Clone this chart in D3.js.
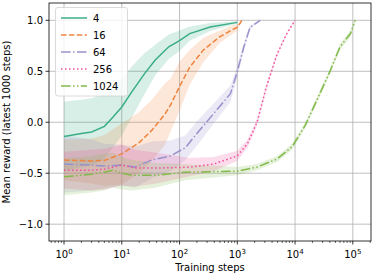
<!DOCTYPE html>
<html>
<head>
<meta charset="utf-8">
<script src="https://cdn.jsdelivr.net/npm/d3@7"></script>
<style>
  body { margin: 0; background: #fff; }
  text { font-family: "DejaVu Sans", sans-serif; }
</style>
</head>
<body>
<svg id="chart" width="374" height="275"></svg>
<script>
// series labels + colours
const names = ["4", "16", "64", "256", "1024"];
const colors = ["#3aae88", "#ee8540", "#9892cc", "#ef4f9d", "#82ba4a"];
const dashes = ["none", "5.5,2.4", "9.6,2.4,1.5,2.4", "1.5,2.5", "9.6,2.4,1.5,2.4,1.5,2.4"];

// training steps / mean reward / std for each run
const steps4  = [1, 2, 3, 5, 7, 10, 15, 25, 38, 65, 100, 150, 340, 1000];
const mean4   = [-0.14, -0.11, -0.095, -0.04, 0.05, 0.15, 0.30, 0.48, 0.61, 0.74, 0.80, 0.87, 0.935, 0.98];
const std4    = [0.34, 0.33, 0.33, 0.32, 0.30, 0.28, 0.25, 0.20, 0.15, 0.12, 0.10, 0.07, 0.04, 0.01];

const steps16 = [1, 3, 5, 10, 20, 33, 56, 70, 100, 150, 260, 500, 900, 1000, 1200];
const mean16  = [-0.37, -0.38, -0.375, -0.31, -0.20, -0.08, 0.08, 0.17, 0.35, 0.54, 0.71, 0.84, 0.92, 0.93, 1.0];
const std16   = [0.20, 0.22, 0.25, 0.30, 0.30, 0.30, 0.30, 0.26, 0.24, 0.17, 0.12, 0.06, 0.04, 0.03, 0.0];

const steps64 = [1, 3, 5, 10, 17, 33, 70, 126, 200, 390, 760, 980, 1300, 1660, 2500];
const mean64  = [-0.41, -0.42, -0.43, -0.42, -0.44, -0.37, -0.33, -0.25, -0.11, 0.085, 0.28, 0.48, 0.74, 0.93, 1.0];
const std64   = [0.28, 0.25, 0.22, 0.20, 0.20, 0.18, 0.15, 0.12, 0.12, 0.10, 0.08, 0.06, 0.04, 0.02, 0.0];

const steps256 = [1, 3, 5, 10, 17, 40, 150, 390, 1000, 1500, 2200, 3200, 4900, 7200, 10000];
const mean256  = [-0.47, -0.47, -0.46, -0.42, -0.45, -0.45, -0.44, -0.41, -0.33, -0.21, 0.0, 0.35, 0.67, 0.87, 1.0];
const std256   = [0.18, 0.20, 0.20, 0.20, 0.18, 0.15, 0.09, 0.07, 0.05, 0.04, 0.03, 0.03, 0.02, 0.01, 0.01];

const steps1024 = [1, 3, 5, 7, 10, 15, 40, 125, 1000, 2200, 4900, 8900, 15000, 24000, 41000, 60000, 91000, 110000];
const mean1024  = [-0.535, -0.51, -0.49, -0.47, -0.50, -0.52, -0.52, -0.49, -0.48, -0.44, -0.36, -0.24, -0.03, 0.22, 0.51, 0.74, 0.87, 1.0];
const std1024   = [0.18, 0.18, 0.18, 0.17, 0.16, 0.15, 0.12, 0.08, 0.04, 0.03, 0.03, 0.03, 0.03, 0.03, 0.03, 0.03, 0.03, 0.03];

const yTicks = [-1.0, -0.5, 0.0, 0.5, 1.0];
const xTicks = [1, 10, 100, 1000, 10000, 100000];

const runs = [
  {steps: steps4, mean: mean4, std: std4},
  {steps: steps16, mean: mean16, std: std16},
  {steps: steps64, mean: mean64, std: std64},
  {steps: steps256, mean: mean256, std: std256},
  {steps: steps1024, mean: mean1024, std: std1024}
];

const svg = d3.select("#chart");
const margin = {left: 49, right: 3, top: 3, bottom: 34};
const W = 374, H = 275;

const x = d3.scaleLog().domain([Math.pow(10, -0.26), Math.pow(10, 5.315)]).range([margin.left, W - margin.right]);
const y = d3.scaleLinear().domain([-1.165, 1.17]).range([H - margin.bottom, margin.top]);

// grid
const grid = svg.append("g");
xTicks.forEach(t => {
  grid.append("line").attr("x1", x(t)).attr("x2", x(t))
    .attr("y1", margin.top).attr("y2", H - margin.bottom)
    .attr("stroke", "#b0b0b0").attr("stroke-width", 0.8);
});
yTicks.forEach(t => {
  grid.append("line").attr("x1", margin.left).attr("x2", W - margin.right)
    .attr("y1", y(t)).attr("y2", y(t))
    .attr("stroke", "#b0b0b0").attr("stroke-width", 0.8);
});

const area = d3.area()
  .x(d => x(d.s))
  .y0(d => y(d.m - d.sd))
  .y1(d => y(d.m + d.sd));
const line = d3.line().x(d => x(d.s)).y(d => y(d.m));

runs.forEach((r, i) => {
  const pts = r.steps.map((s, j) => ({s: s, m: r.mean[j], sd: r.std[j]}));
  svg.append("path").datum(pts).attr("d", area)
    .attr("fill", colors[i]).attr("fill-opacity", 0.2);
});
runs.forEach((r, i) => {
  const pts = r.steps.map((s, j) => ({s: s, m: r.mean[j], sd: r.std[j]}));
  svg.append("path").datum(pts).attr("d", line)
    .attr("fill", "none").attr("stroke", colors[i]).attr("stroke-width", 1.5)
    .attr("stroke-dasharray", dashes[i]);
});

// frame
svg.append("rect").attr("x", margin.left).attr("y", margin.top)
  .attr("width", W - margin.left - margin.right).attr("height", H - margin.top - margin.bottom)
  .attr("fill", "none").attr("stroke", "#000").attr("stroke-width", 0.8);

// x axis
const xAxis = svg.append("g");
const minor = [];
for (let e = -1; e <= 5; e++) for (let k = 2; k <= 9; k++) {
  const v = k * Math.pow(10, e);
  if (v > x.domain()[0] && v < x.domain()[1]) minor.push(v);
}
minor.forEach(v => {
  xAxis.append("line").attr("x1", x(v)).attr("x2", x(v))
    .attr("y1", H - margin.bottom).attr("y2", H - margin.bottom + 2)
    .attr("stroke", "#000").attr("stroke-width", 0.6);
});
xTicks.forEach((t, i) => {
  xAxis.append("line").attr("x1", x(t)).attr("x2", x(t))
    .attr("y1", H - margin.bottom).attr("y2", H - margin.bottom + 3.5)
    .attr("stroke", "#000").attr("stroke-width", 0.8);
  const txt = xAxis.append("text").attr("x", x(t)).attr("y", H - margin.bottom + 17)
    .attr("text-anchor", "middle").attr("font-size", 10).attr("fill", "#000");
  txt.append("tspan").text("10");
  txt.append("tspan").attr("font-size", 7).attr("dy", -4.5).text(i);
});
svg.append("text").attr("x", (margin.left + W - margin.right) / 2).attr("y", 271)
  .attr("text-anchor", "middle").attr("font-size", 10).text("Training steps");

// y axis
yTicks.forEach(t => {
  svg.append("line").attr("x1", margin.left - 3.5).attr("x2", margin.left)
    .attr("y1", y(t)).attr("y2", y(t)).attr("stroke", "#000").attr("stroke-width", 0.8);
  svg.append("text").attr("x", margin.left - 6).attr("y", y(t) + 3.6)
    .attr("text-anchor", "end").attr("font-size", 10)
    .text(d3.format(".1f")(t).replace("-", "\u2212"));
});
svg.append("text").attr("transform", `translate(10,${(margin.top + H - margin.bottom) / 2}) rotate(-90)`)
  .attr("text-anchor", "middle").attr("font-size", 10).text("Mean reward (latest 1000 steps)");

// legend
const lg = svg.append("g");
lg.append("rect").attr("x", 55.5).attr("y", 7.5).attr("width", 72).attr("height", 88.5)
  .attr("rx", 2.5).attr("fill", "#fff").attr("fill-opacity", 0.8)
  .attr("stroke", "#d0d0d0").attr("stroke-width", 0.8);
names.forEach((n, i) => {
  const yy = 18 + i * 17;
  lg.append("line").attr("x1", 61).attr("x2", 87).attr("y1", yy).attr("y2", yy)
    .attr("stroke", colors[i]).attr("stroke-width", 1.5).attr("stroke-dasharray", dashes[i]);
  lg.append("text").attr("x", 93).attr("y", yy + 3.6).attr("font-size", 10).text(n);
});
</script>
</body>
</html>
